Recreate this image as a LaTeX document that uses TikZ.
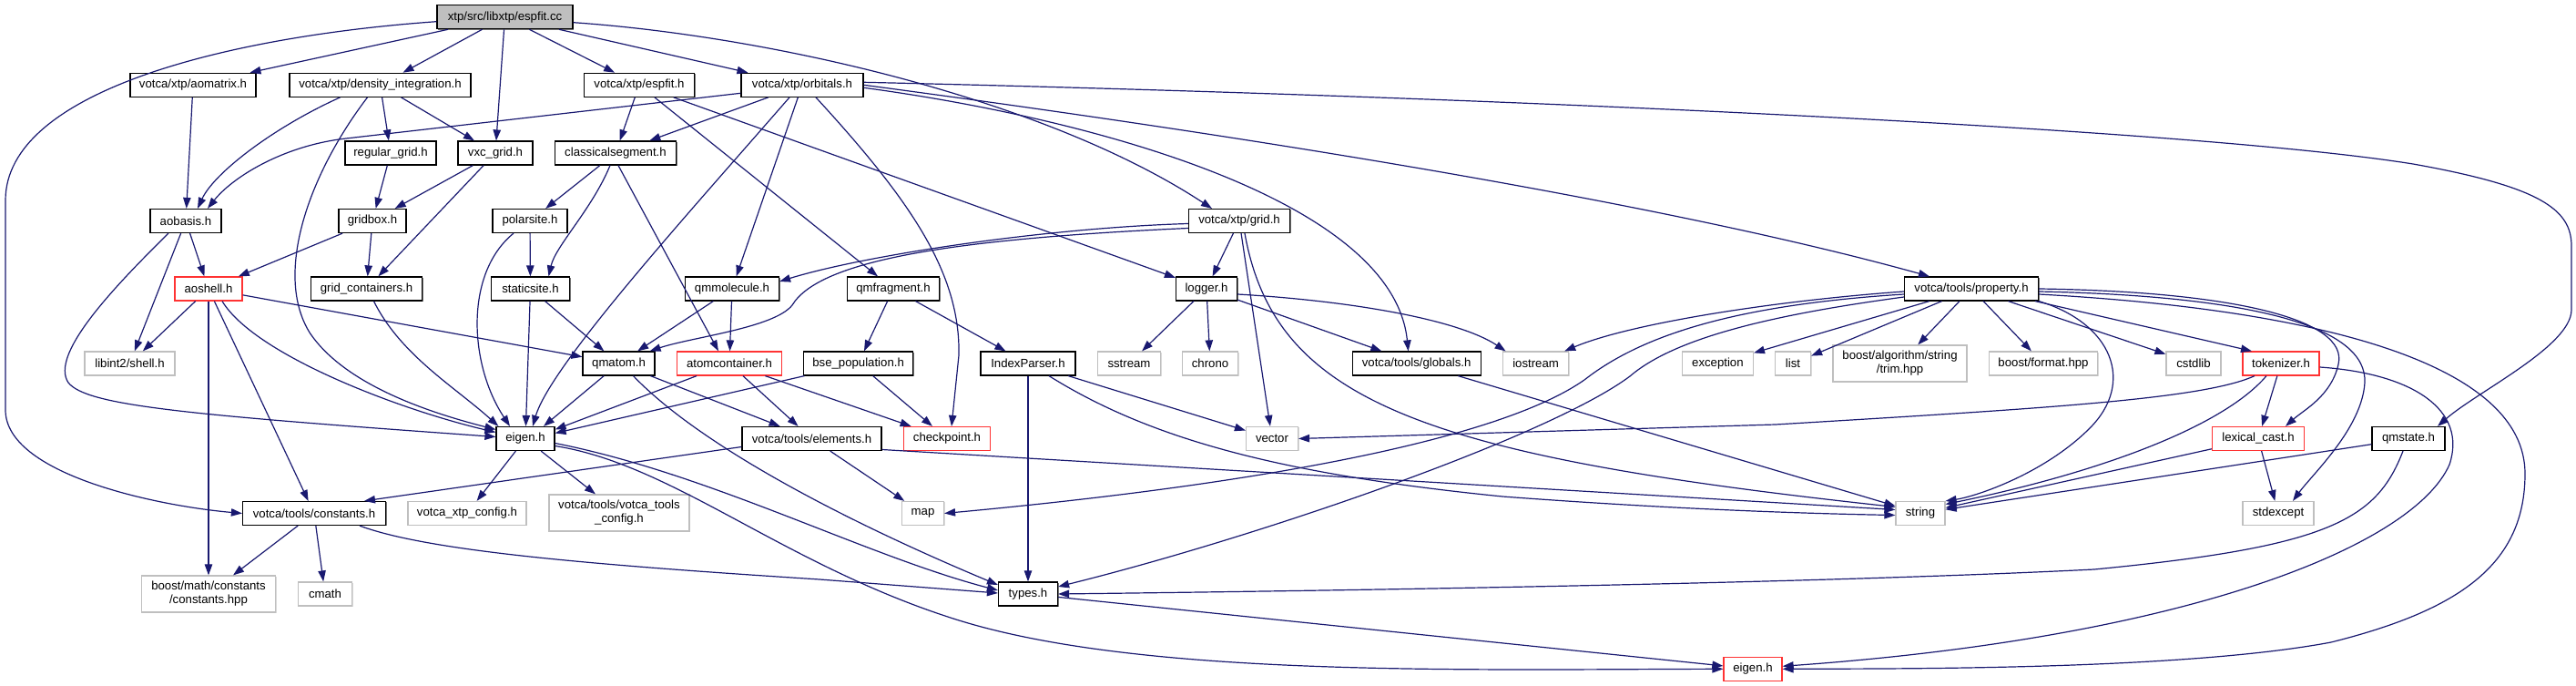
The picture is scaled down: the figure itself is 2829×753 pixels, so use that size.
\documentclass[tikz,border=0pt]{standalone}
\usepackage{fontspec}
\setmainfont{Liberation Sans}
\usetikzlibrary{arrows.meta,calc,shadows}
\definecolor{edgec}{HTML}{191970}
\definecolor{greyb}{HTML}{BFBFBF}
\definecolor{redb}{HTML}{FF3333}
\begin{document}
\begin{tikzpicture}[x=0.5pt,y=-0.5pt,
  base/.style={line width=0.6pt,fill=white,minimum height=13pt,inner xsep=1pt,inner ysep=0pt,
    font=\fontsize{6.6}{7.5}\selectfont,align=center},
  nd/.style={base,draw=black,drop shadow={shadow xshift=0.5pt,shadow yshift=-0.5pt,fill=black!55,opacity=1}},
  rd/.style={base,draw=redb},
  gy/.style={base,draw=greyb,drop shadow={shadow xshift=0.5pt,shadow yshift=-0.5pt,fill=greyb!60,opacity=1}},
  rootn/.style={nd,fill=greyb},
  bw/.style={minimum width=#1*0.5pt},
  bh/.style={minimum height=#1*0.5pt},
  e/.style={draw=edgec,line width=0.6pt,-{Triangle[length=6pt,width=4.2pt]}}]
\useasboundingbox (0,0) rectangle (2829,753);
% row 1-2
\node[rootn,bw=149] (cc) at (554.5,18.7) {xtp/src/libxtp/espfit.cc};
\node[nd,bw=138] (aomat) at (212,93.3) {votca/xtp/aomatrix.h};
\node[nd,bw=199] (dint) at (417.5,93.3) {votca/xtp/density\_integration.h};
\node[nd,bw=121] (espf) at (702,93.3) {votca/xtp/espfit.h};
\node[nd,bw=134] (orb) at (881,93.3) {votca/xtp/orbitals.h};
% row 3
\node[nd,bw=100] (rgrid) at (429,168) {regular\_grid.h};
\node[nd,bw=82] (vxc) at (544,168) {vxc\_grid.h};
\node[nd,bw=133] (cseg) at (676,168) {classicalsegment.h};
% row 4
\node[nd,bw=78] (aob) at (204,242.5) {aobasis.h};
\node[nd,bw=74] (gbox) at (409,242.5) {gridbox.h};
\node[nd,bw=82] (psite) at (582,242.5) {polarsite.h};
\node[nd,bw=111] (grid) at (1361,242.5) {votca/xtp/grid.h};
% row 5
\node[rd,bw=74] (aosh) at (229,317) {aoshell.h};
\node[nd,bw=122] (gcont) at (402.5,317) {grid\_containers.h};
\node[nd,bw=86] (ssite) at (582.5,317) {staticsite.h};
\node[nd,bw=103] (qmmol) at (804,317) {qmmolecule.h};
\node[nd,bw=101] (qmfr) at (981,317) {qmfragment.h};
\node[nd,bw=67] (logg) at (1325,317) {logger.h};
\node[nd,bw=147] (prop) at (2165,317) {votca/tools/property.h};
% row 6
\node[gy,bw=99] (lshell) at (142.5,399) {libint2/shell.h};
\node[nd,bw=79] (qmat) at (679.5,399) {qmatom.h};
\node[rd,bw=115] (acont) at (801,399) {atomcontainer.h};
\node[nd,bw=120] (bse) at (942.6,399) {bse\_population.h};
\node[nd,bw=104] (ipar) at (1129,399) {IndexParser.h};
\node[gy,bw=69] (sstr) at (1240,399) {sstream};
\node[gy,bw=61] (chr) at (1329,399) {chrono};
\node[nd,bw=141] (glob) at (1555.6,399) {votca/tools/globals.h};
\node[gy,bw=72] (iost) at (1686.6,399) {iostream};
\node[gy,bw=78] (exc) at (1886.4,399) {exception};
\node[gy,bw=39] (lst) at (1969,399) {list};
\node[gy,bw=147,bh=40] (trim) at (2086.5,399) {boost/algorithm/string\\/trim.hpp};
\node[gy,bw=119] (bfmt) at (2244,399) {boost/format.hpp};
\node[gy,bw=60] (cstd) at (2409,399) {cstdlib};
\node[rd,bw=84] (tok) at (2505,399) {tokenizer.h};
% row 7
\node[nd,bw=64] (eig) at (577,481.5) {eigen.h};
\node[nd,bw=153] (elem) at (891.5,481.5) {votca/tools/elements.h};
\node[rd,bw=95] (chk) at (1040,481.5) {checkpoint.h};
\node[gy,bw=57] (vec) at (1397,481.5) {vector};
\node[rd,bw=101] (lex) at (2480,481.5) {lexical\_cast.h};
\node[nd,bw=80] (qms) at (2645,481.5) {qmstate.h};
% row 8
\node[nd,bw=157] (const) at (345,563.5) {votca/tools/constants.h};
\node[gy,bw=130] (xcfg) at (513,563.5) {votca\_xtp\_config.h};
\node[gy,bw=154,bh=40] (tcfg) at (680,563) {votca/tools/votca\_tools\\\_config.h};
\node[gy,bw=46] (map) at (1013.5,563.5) {map};
\node[gy,bw=54] (str) at (2109,563.5) {string};
\node[gy,bw=78] (stdx) at (2502,563.5) {stdexcept};
% row 9-10
\node[gy,bw=147,bh=40] (bmath) at (229,652) {boost/math/constants\\/constants.hpp};
\node[gy,bw=59] (cmath) at (357,652) {cmath};
\node[nd,bw=65] (types) at (1129,652) {types.h};
\node[rd,bw=64] (eigr) at (1925,734.3) {eigen.h};

% ---- edges from espfit.cc
\draw[e] ($(cc.west)+(0,5)$) .. controls (250,40) and (6,100) .. (6,220) -- (6,450) .. controls (6,520) and (170,555) .. (const.west);
\draw[e] (cc) -- (aomat);
\draw[e] (cc) -- (dint);
\draw[e] (cc) -- (vxc);
\draw[e] (cc) -- (espf);
\draw[e] (cc) -- (orb);
\draw[e] ($(cc.east)+(0,6)$) .. controls (850,40) and (1150,110) .. ($(grid.north)+(-30,0)$);
% aomatrix, density_integration
\draw[e] (aomat) -- (aob);
\draw[e] ($(dint.south)+(-44,0)$) .. controls (300,140) and (235,190) .. ($(aob.north)+(13,0)$);
\draw[e] ($(dint.south)+(-14,0)$) .. controls (340,190) and (300,300) .. (340,365) .. controls (380,425) and (480,455) .. ($(eig.west)+(0,-10)$);
\draw[e] (dint) -- (rgrid);
\draw[e] (dint) -- (vxc);
% espfit.h
\draw[e] (espf) -- (cseg);
\draw[e] (espf) -- (qmfr);
\draw[e] (espf) -- (logg);
% orbitals.h
\draw[e] ($(orb.west)+(0,9)$) -- (380,152) .. controls (310,160) and (255,195) .. ($(aob.north)+(24,0)$);
\draw[e] (orb) -- (cseg);
\draw[e] (orb) -- (qmmol);
\draw[e] ($(orb.south)+(-14,0)$) .. controls (760,230) and (605,400) .. ($(eig.north)+(8,0)$);
\draw[e] ($(orb.south)+(15,0)$) .. controls (1000,220) and (1055,300) .. (1053,390) -- ($(chk.north)+(5,0)$);
\draw[e] ($(orb.east)+(0,3)$) .. controls (1200,130) and (1530,220) .. ($(glob.north)+(-9,0)$);
\draw[e] (orb.east) .. controls (1300,140) and (1800,215) .. ($(prop.north)+(-46,0)$);
\draw[e] ($(orb.east)+(0,-3)$) .. controls (1600,105) and (2400,140) .. (2650,180) .. controls (2790,205) and (2824,230) .. (2824,270) -- (2824,340) .. controls (2824,380) and (2720,430) .. ($(qms.north)+(32,0)$);
% grid layer
\draw[e] (rgrid) -- (gbox);
\draw[e] (vxc) -- (gbox);
\draw[e] (vxc) -- (gcont);
\draw[e] (cseg) -- (psite);
\draw[e] ($(cseg.south)+(-6,0)$) .. controls (650,230) and (610,270) .. ($(ssite.north)+(20,0)$);
\draw[e] ($(cseg.south)+(3,0)$) -- ($(acont.north)+(-12,0)$);
% aobasis
\draw[e] (aob) -- (aosh);
\draw[e] (aob) -- (lshell);
\draw[e] ($(aob.south)+(-19,0)$) .. controls (120,320) and (55,390) .. (75,420) .. controls (95,445) and (200,455) .. ($(eig.west)+(0,-2)$);
\draw[e] (gbox) -- (aosh);
\draw[e] (gbox) -- (gcont);
\draw[e] (psite) -- (ssite);
\draw[e] ($(psite.south)+(-18,0)$) .. controls (510,300) and (515,400) .. ($(eig.north)+(-17,0)$);
% aoshell
\draw[e] (aosh) -- (lshell);
\draw[e] (aosh) -- (bmath);
\draw[e] (aosh) -- (const);
\draw[e] ($(aosh.south)+(15,0)$) .. controls (280,390) and (440,450) .. ($(eig.west)+(0,-7)$);
\draw[e] (aosh) -- (qmat);
\draw[e] ($(gcont.south)+(8,0)$) .. controls (440,390) and (500,425) .. ($(eig.north west)+(3,0)$);
\draw[e] (ssite) -- (eig);
\draw[e] (ssite) -- (qmat);
\draw[e] (qmmol) -- (qmat);
\draw[e] (qmmol) -- (acont);
\draw[e] (qmfr) -- (bse);
\draw[e] (qmfr) -- (ipar);
% grid.h
\draw[e] ($(grid.west)+(0,3)$) .. controls (1150,250) and (950,280) .. ($(qmmol.east)+(0,-8)$);
\draw[e] ($(grid.west)+(0,8)$) .. controls (1050,262) and (900,285) .. (870,335) .. controls (850,360) and (760,370) .. ($(qmat.north east)+(-6,0)$);
\draw[e] (grid) -- (logg);
\draw[e] (grid) -- (vec);
\draw[e] ($(grid.south)+(6,0)$) .. controls (1400,440) and (1560,500) .. ($(str.west)+(0,-7)$);
% logger
\draw[e] (logg) -- (sstr);
\draw[e] (logg) -- (chr);
\draw[e] (logg) -- (glob);
\draw[e] ($(logg.east)+(0,6)$) .. controls (1480,330) and (1600,350) .. ($(iost.north)+(-33,0)$);
% IndexParser
\draw[e] (ipar) -- (types);
\draw[e] (ipar) -- (vec);
\draw[e] ($(ipar.south)+(23,0)$) .. controls (1260,480) and (1400,520) .. (1650,545) .. controls (1850,560) and (2000,564) .. ($(str.west)+(0,2)$);
% bse_population, qmatom, atomcontainer
\draw[e] (bse) -- ($(eig.east)+(0,-6)$);
\draw[e] (bse) -- (chk);
\draw[e] (qmat) -- ($(eig.north)+(20,0)$);
\draw[e] (qmat) -- (elem);
\draw[e] ($(qmat.south)+(16,0)$) .. controls (760,480) and (900,560) .. ($(types.west)+(0,-10)$);
\draw[e] (acont) -- ($(eig.east)+(0,-10)$);
\draw[e] (acont) -- (elem);
\draw[e] (acont) -- (chk);
% eigen.h
\draw[e] (eig) -- (xcfg);
\draw[e] (eig) -- (tcfg);
\draw[e] ($(eig.east)+(0,5)$) .. controls (780,520) and (950,610) .. ($(types.west)+(0,-4)$);
\draw[e] ($(eig.east)+(0,8)$) .. controls (740,510) and (860,620) .. (1050,680) .. controls (1250,743) and (1600,735) .. (eigr.west);
% elements.h
\draw[e] ($(elem.west)+(0,9)$) -- ($(const.north)+(55,0)$);
\draw[e] (elem) -- (map);
\draw[e] ($(elem.east)+(0,12)$) -- ($(str.west)+(0,-4)$);
% constants.h
\draw[e] (const) -- (bmath);
\draw[e] (const) -- (cmath);
\draw[e] ($(const.south)+(50,0)$) .. controls (470,605) and (650,620) .. (900,636) -- ($(types.west)+(0,-1)$);
\draw[e] (types) -- (eigr);
\draw[e] (glob) -- (str);
% property.h
\draw[e] ($(prop.west)+(0,3)$) .. controls (1950,330) and (1790,355) .. ($(iost.north east)+(-5,0)$);
\draw[e] ($(prop.west)+(0,6)$) .. controls (1900,335) and (1800,370) .. (1740,417) .. controls (1650,480) and (1400,530) .. (map.east);
\draw[e] ($(prop.west)+(0,9)$) .. controls (1950,345) and (1840,370) .. (1790,413) .. controls (1700,480) and (1380,590) .. ($(types.east)+(0,-8)$);
\draw[e] (prop) -- (exc);
\draw[e] (prop) -- (lst);
\draw[e] (prop) -- (trim);
\draw[e] (prop) -- (bfmt);
\draw[e] (prop) -- (cstd);
\draw[e] ($(prop.south east)+(-4,0)$) -- ($(tok.north)+(-32,0)$);
\draw[e] (prop.south east) .. controls (2320,355) and (2345,420) .. (2295,470) .. controls (2245,520) and (2170,545) .. (str.north east);
\draw[e] (prop.east) .. controls (2450,320) and (2580,350) .. (2568,400) .. controls (2560,435) and (2530,450) .. ($(lex.north)+(30,0)$);
\draw[e] ($(prop.east)+(0,3)$) .. controls (2480,325) and (2600,360) .. (2597,420) .. controls (2594,470) and (2540,520) .. ($(stdx.north)+(16,0)$);
\draw[e] ($(prop.east)+(0,6)$) .. controls (2550,340) and (2773,400) .. (2773,520) .. controls (2773,620) and (2700,670) .. (2560,705) .. controls (2400,735) and (2100,734) .. (eigr.east);
% tokenizer.h
\draw[e] ($(tok.south)+(-29,0)$) .. controls (2420,438) and (2250,448) .. (1950,466) -- (vec.east);
\draw[e] ($(tok.south)+(-16,0)$) .. controls (2440,470) and (2300,520) .. ($(str.east)+(0,-10)$);
\draw[e] (tok) -- (lex);
\draw[e] ($(tok.east)+(0,4)$) .. controls (2650,410) and (2710,450) .. (2690,510) .. controls (2650,600) and (2400,700) .. ($(eigr.east)+(0,-3)$);
% lexical_cast, qmstate
\draw[e] (lex) -- (str);
\draw[e] (lex) -- (stdx);
\draw[e] (qms) -- (str);
\draw[e] ($(qms.south)+(-6,0)$) .. controls (2610,570) and (2560,600) .. (2300,625) .. controls (2000,640) and (1500,648) .. (types.east);
\end{tikzpicture}
\end{document}
